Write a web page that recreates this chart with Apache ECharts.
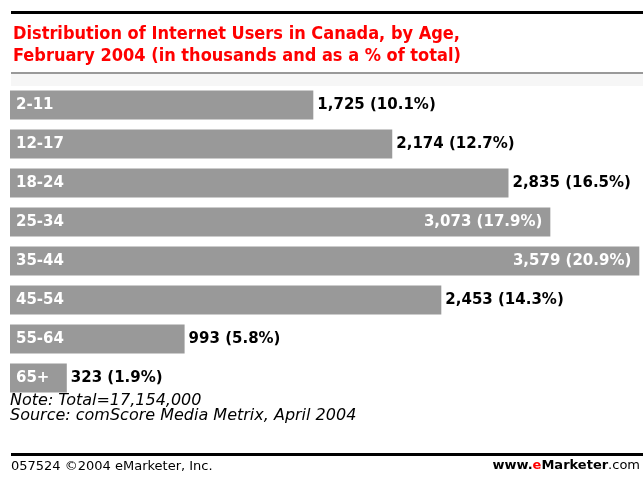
<!DOCTYPE html>
<html><head><meta charset="utf-8">
<script src="https://cdn.jsdelivr.net/npm/echarts@6/dist/echarts.min.js"></script>
<style>html,body{margin:0;padding:0;background:#fff}#c{width:643px;height:477px}</style>
</head><body><div id="c"></div>
<script>
var categories = ['2-11','12-17','18-24','25-34','35-44','45-54','55-64','65+'];
var users = [1725, 2174, 2835, 3073, 3579, 2453, 993, 323];
var shares = [10.1, 12.7, 16.5, 17.9, 20.9, 14.3, 5.8, 1.9];
var insideLabel = [false, false, false, true, true, false, false, false];

function fmt(v){ return v.toString().replace(/\B(?=(\d{3})+(?!\d))/g, ','); }

var chart = echarts.init(document.getElementById('c'));
var data = users.map(function(v,i){
  return {
    value: v,
    label: insideLabel[i] ? {position:'insideRight', color:'#fff', distance:8} : {position:'right', color:'#000', distance:4}
  };
});
chart.setOption({
  animation:false,
  backgroundColor:'#fff',
  title:{
    text:'Distribution of Internet Users in Canada, by Age,\nFebruary 2004 (in thousands and as a % of total)',
    left:8, top:18,
    textStyle:{color:'#ff0000', fontFamily:'DejaVu Sans Condensed', fontWeight:'bold', fontSize:18, lineHeight:22}
  },
  grid:{left:10, right:0, top:85.5, height:312, containLabel:false},
  xAxis:{type:'value', min:0, max:3600, show:false},
  yAxis:{type:'category', data:categories, inverse:true, axisLine:{show:false}, axisTick:{show:false},
    axisLabel:{inside:true, color:'#fff', fontWeight:'bold', fontFamily:'DejaVu Sans', fontSize:15, margin:6}, z:10},
  series:[{
    type:'bar', data:data, barWidth:29,
    itemStyle:{color:'#999999'},
    label:{show:true, fontWeight:'bold', fontFamily:'DejaVu Sans', fontSize:15,
      formatter:function(p){ return fmt(users[p.dataIndex]) + ' (' + shares[p.dataIndex].toFixed(1) + '%)'; }}
  }],
  graphic:[
    {type:'rect', shape:{x:11, y:11, width:632, height:3}, style:{fill:'#000'}},
    {type:'rect', shape:{x:11, y:72, width:632, height:2}, style:{fill:'#999'}},
    {type:'rect', shape:{x:11, y:74, width:632, height:12}, style:{fill:'#f6f6f6'}},
    {type:'text', left:10, top:393, style:{text:'Note: Total=17,154,000', font:'italic 16px "DejaVu Sans"', fill:'#000'}},
    {type:'text', left:10, top:408, style:{text:'Source: comScore Media Metrix, April 2004', font:'italic 16px "DejaVu Sans"', fill:'#000'}},
    {type:'rect', shape:{x:11, y:453, width:632, height:3}, style:{fill:'#000'}},
    {type:'text', left:11, top:460, style:{text:'057524 \u00a92004 eMarketer, Inc.', font:'13px "DejaVu Sans"', fill:'#000'}},
    {type:'text', right:3, top:459, style:{
      text:'{a|www.}{b|e}{a|Marketer}{c|.com}',
      rich:{a:{font:'bold 13px "DejaVu Sans"', fill:'#000'}, b:{font:'bold 13px "DejaVu Sans"', fill:'#ff0000'}, c:{font:'13px "DejaVu Sans"', fill:'#000'}}
    }}
  ]
});
</script></body></html>
